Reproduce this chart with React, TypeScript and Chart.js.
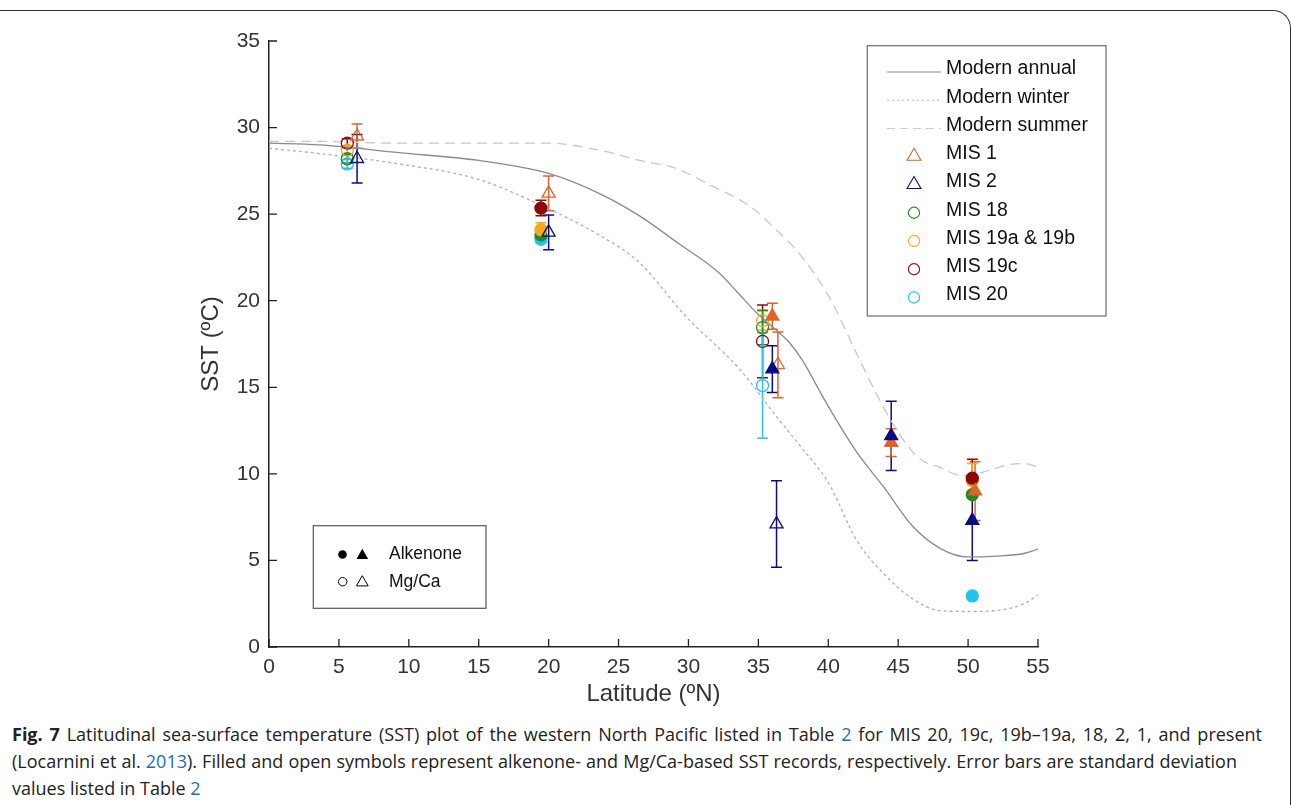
import React, { useEffect, useRef } from "react";
import { Chart, registerables } from "chart.js";

Chart.register(...registerables);

// ---------- Data ----------
const xTickValues = [0, 5, 10, 15, 20, 25, 30, 35, 40, 45, 50, 55];
const yTickValues = [0, 5, 10, 15, 20, 25, 30, 35];

// Modern climatology curves (latitude °N, SST °C)
const annualLat = [0, 3.6, 9.3, 15, 20, 23.6, 26.5, 29.3, 32.2, 33.6, 35, 36, 37.2, 38.2, 39.3, 40, 42, 44, 46, 48, 50, 52, 54, 55];
const annualSST = [29.1, 29.0, 28.55, 28.1, 27.35, 26.2, 24.9, 23.3, 21.6, 20.4, 19.2, 18.5, 17.6, 16.5, 14.9, 13.9, 11.3, 9.2, 7.0, 5.7, 5.2, 5.25, 5.4, 5.65];

const winterLat = [0, 3.6, 9.3, 15, 20, 23.6, 26.5, 29.8, 33.6, 36.5, 38, 40, 42, 44, 46, 48, 50, 52, 54, 55];
const winterSST = [28.8, 28.5, 27.9, 27.0, 25.3, 23.8, 22.2, 19.1, 16.1, 13.1, 11.6, 9.5, 6.2, 4.2, 2.8, 2.1, 2.05, 2.1, 2.5, 3.0];

const summerLat = [0, 3.6, 9.3, 15, 20, 23.6, 26.5, 29.1, 31.5, 34.5, 36, 37.9, 40, 42, 43.3, 45, 46.5, 47.9, 49.6, 51.5, 52.7, 54, 55];
const summerSST = [29.2, 29.2, 29.1, 29.1, 29.1, 28.7, 28.1, 27.65, 26.7, 25.4, 24.3, 22.75, 20.3, 17.0, 14.85, 12.4, 10.9, 10.4, 9.9, 10.2, 10.5, 10.6, 10.4];

// Paleo records: latitude, SST, standard deviation, alkenone (filled) vs Mg/Ca (open)
const mis1Lat = [6.3, 20.0, 36.0, 36.4, 44.5, 50.5];
const mis1SST = [29.5, 26.2, 19.1, 16.3, 11.8, 9.0];
const mis1Err = [0.7, 1.0, 0.75, 1.9, 0.8, 1.7];
const mis1Filled = [false, false, true, false, true, true];

const mis2Lat = [6.3, 20.0, 36.0, 36.3, 44.5, 50.3];
const mis2SST = [28.2, 23.95, 16.05, 7.1, 12.2, 7.3];
const mis2Err = [1.4, 1.0, 1.35, 2.5, 2.0, 2.3];
const mis2Filled = [false, false, true, false, true, true];

const mis18Lat = [5.6, 19.45, 35.3, 50.3];
const mis18SST = [28.2, 23.8, 18.45, 8.8];
const mis18Err = [0.25, 0.2, 1.0, 0.15];
const mis18Filled = [false, true, false, true];

const mis19abLat = [5.6, 19.45, 35.3, 50.3];
const mis19abSST = [28.7, 24.1, 18.85, 9.6];
const mis19abErr = [0.25, 0.4, 0.55, 1.0];
const mis19abFilled = [false, true, false, true];

const mis19cLat = [5.6, 19.45, 35.3, 50.3];
const mis19cSST = [29.1, 25.35, 17.65, 9.75];
const mis19cErr = [0.25, 0.45, 2.1, 1.1];
const mis19cFilled = [false, true, false, true];

const mis20Lat = [5.6, 19.45, 35.3, 50.3];
const mis20SST = [27.9, 23.55, 15.1, 2.95];
const mis20Err = [0.25, 0.2, 3.05, 0];
const mis20Filled = [false, true, false, true];

// ---------- Styles ----------
const COL_MIS1 = "#E3622A";
const COL_MIS2 = "#0B0B82";
const COL_MIS18 = "#1E8C1E";
const COL_MIS19AB = "#F7A81B";
const COL_MIS19C = "#8A0A0A";
const COL_MIS20 = "#22C4EE";
const FONT = '"Liberation Sans", Arial, sans-serif';

const zip = (xs: number[], ys: number[]) => xs.map((x, i) => ({ x, y: ys[i] }));

function markerSet(label: string, lat: number[], sst: number[], err: number[], filled: boolean[], color: string, style: string) {
  return {
    type: "scatter" as const,
    label,
    data: zip(lat, sst),
    errs: err,
    pointStyle: style,
    pointRadius: style === "triangle" ? 7.5 : 6,
    borderWidth: 1.3,
    borderColor: color,
    backgroundColor: (ctx: any) => (filled[ctx.dataIndex] ? color : "rgba(0,0,0,0)"),
    showLine: false,
  };
}

function lineSet(label: string, lat: number[], sst: number[], color: string, dash: number[], width: number) {
  return {
    type: "line" as const,
    label,
    data: zip(lat, sst),
    borderColor: color,
    borderWidth: width,
    borderDash: dash,
    pointRadius: 0,
    fill: false,
    cubicInterpolationMode: "monotone" as const,
  };
}

function tri(ctx: CanvasRenderingContext2D, x: number, y: number, r: number) {
  ctx.beginPath();
  for (let k = 0; k < 3; k++) {
    const a = -Math.PI / 2 + (k * 2 * Math.PI) / 3;
    const px = x + Math.cos(a) * r;
    const py = y + Math.sin(a) * r;
    if (k === 0) ctx.moveTo(px, py);
    else ctx.lineTo(px, py);
  }
  ctx.closePath();
}

const errorBarPlugin = {
  id: "errorBars",
  beforeDatasetsDraw(chart: any) {
    const { ctx } = chart;
    const ys = chart.scales.y;
    chart.data.datasets.forEach((ds: any, i: number) => {
      if (!ds.errs) return;
      const meta = chart.getDatasetMeta(i);
      ctx.save();
      ctx.strokeStyle = ds.borderColor;
      ctx.lineWidth = 1.5;
      meta.data.forEach((pt: any, j: number) => {
        const e = ds.errs[j];
        if (!e) return;
        const v = ds.data[j].y;
        const yT = ys.getPixelForValue(v + e);
        const yB = ys.getPixelForValue(v - e);
        ctx.beginPath();
        ctx.moveTo(pt.x, yT);
        ctx.lineTo(pt.x, yB);
        ctx.moveTo(pt.x - 5.5, yT);
        ctx.lineTo(pt.x + 5.5, yT);
        ctx.moveTo(pt.x - 5.5, yB);
        ctx.lineTo(pt.x + 5.5, yB);
        ctx.stroke();
      });
      ctx.restore();
    });
  },
};

const decorPlugin = {
  id: "decor",
  afterDraw(chart: any) {
    const { ctx, chartArea } = chart;
    const xs = chart.scales.x;
    const ys = chart.scales.y;
    ctx.save();
    // inward ticks
    ctx.strokeStyle = "#222";
    ctx.lineWidth = 1.3;
    ctx.beginPath();
    xTickValues.forEach((v) => {
      const px = xs.getPixelForValue(v);
      ctx.moveTo(px, chartArea.bottom);
      ctx.lineTo(px, chartArea.bottom - 8);
    });
    yTickValues.forEach((v) => {
      const py = ys.getPixelForValue(v);
      ctx.moveTo(chartArea.left, py);
      ctx.lineTo(chartArea.left + 8, py);
    });
    ctx.stroke();

    // axis titles
    ctx.fillStyle = "#333";
    ctx.font = `24px ${FONT}`;
    ctx.textAlign = "center";
    ctx.textBaseline = "middle";
    ctx.fillText("Latitude (ºN)", (chartArea.left + chartArea.right) / 2, 694);
    ctx.save();
    ctx.translate(211, (chartArea.top + chartArea.bottom) / 2);
    ctx.rotate(-Math.PI / 2);
    ctx.fillText("SST (ºC)", 0, 0);
    ctx.restore();

    // main legend
    ctx.strokeStyle = "#777";
    ctx.lineWidth = 1.3;
    ctx.strokeRect(867.3, 45.7, 238.7, 270.3);
    const textX = 946;
    const rowY = (k: number) => 69 + k * 28.25;
    const lines = [
      { label: "Modern annual", color: "#888", dash: [] as number[] },
      { label: "Modern winter", color: "#bbb", dash: [2, 3] },
      { label: "Modern summer", color: "#ccc", dash: [8, 5] },
    ];
    ctx.lineWidth = 1.2;
    lines.forEach((l, k) => {
      ctx.strokeStyle = l.color;
      ctx.setLineDash(l.dash);
      ctx.beginPath();
      ctx.moveTo(887, rowY(k) + 3);
      ctx.lineTo(941, rowY(k) + 3);
      ctx.stroke();
    });
    ctx.setLineDash([]);
    const marks = [
      { label: "MIS 1", color: COL_MIS1, shape: "tri" },
      { label: "MIS 2", color: COL_MIS2, shape: "tri" },
      { label: "MIS 18", color: COL_MIS18, shape: "circ" },
      { label: "MIS 19a & 19b", color: COL_MIS19AB, shape: "circ" },
      { label: "MIS 19c", color: COL_MIS19C, shape: "circ" },
      { label: "MIS 20", color: COL_MIS20, shape: "circ" },
    ];
    ctx.lineWidth = 1.1;
    marks.forEach((m, k) => {
      const y = rowY(k + 3) + 1.5;
      ctx.strokeStyle = m.color;
      if (m.shape === "tri") {
        tri(ctx, 914, y + 1, 8);
      } else {
        ctx.beginPath();
        ctx.arc(914, y + 1, 5.6, 0, Math.PI * 2);
      }
      ctx.stroke();
    });
    ctx.fillStyle = "#111";
    ctx.font = `19.5px ${FONT}`;
    ctx.textAlign = "left";
    ctx.textBaseline = "middle";
    [...lines.map((l) => l.label), ...marks.map((m) => m.label)].forEach((t, k) => {
      ctx.fillText(t, textX, rowY(k));
    });

    // inset legend (proxy type)
    ctx.strokeStyle = "#555";
    ctx.lineWidth = 1.2;
    ctx.strokeRect(313.3, 525.7, 172.7, 82.6);
    ctx.fillStyle = "#000";
    ctx.strokeStyle = "#000";
    ctx.beginPath();
    ctx.arc(342.5, 554.5, 4.3, 0, Math.PI * 2);
    ctx.fill();
    tri(ctx, 362.3, 555.5, 6.8);
    ctx.fill();
    ctx.lineWidth = 1;
    ctx.beginPath();
    ctx.arc(342.7, 581.7, 4.2, 0, Math.PI * 2);
    ctx.stroke();
    tri(ctx, 362.3, 582.5, 6.8);
    ctx.stroke();
    ctx.fillStyle = "#111";
    ctx.font = `17.5px ${FONT}`;
    ctx.fillText("Alkenone", 389, 554.3);
    ctx.fillText("Mg/Ca", 389, 581.7);
    ctx.restore();
  },
};

export default function App() {
  const ref = useRef<HTMLCanvasElement | null>(null);

  useEffect(() => {
    if (!ref.current) return;
    const chart = new Chart(ref.current, {
      type: "scatter",
      data: {
        datasets: [
          markerSet("MIS 2", mis2Lat, mis2SST, mis2Err, mis2Filled, COL_MIS2, "triangle"),
          markerSet("MIS 1", mis1Lat, mis1SST, mis1Err, mis1Filled, COL_MIS1, "triangle"),
          markerSet("MIS 19c", mis19cLat, mis19cSST, mis19cErr, mis19cFilled, COL_MIS19C, "circle"),
          markerSet("MIS 19a & 19b", mis19abLat, mis19abSST, mis19abErr, mis19abFilled, COL_MIS19AB, "circle"),
          markerSet("MIS 18", mis18Lat, mis18SST, mis18Err, mis18Filled, COL_MIS18, "circle"),
          markerSet("MIS 20", mis20Lat, mis20SST, mis20Err, mis20Filled, COL_MIS20, "circle"),
          lineSet("Modern annual", annualLat, annualSST, "#8a8a8a", [], 1.3),
          lineSet("Modern winter", winterLat, winterSST, "#b0b0b0", [3, 3], 1.3),
          lineSet("Modern summer", summerLat, summerSST, "#c8c8c8", [10, 6], 1.3),
        ] as any,
      },
      options: {
        responsive: false,
        animation: false,
        devicePixelRatio: 1,
        layout: { padding: { left: 0, top: 41, right: 255, bottom: 0 } },
        plugins: { legend: { display: false }, tooltip: { enabled: false } },
        scales: {
          x: {
            type: "linear",
            min: 0,
            max: 55,
            afterFit: (s: any) => {
              s.height = 720 - 647;
            },
            afterBuildTicks: (s: any) => {
              s.ticks = xTickValues.map((v) => ({ value: v }));
            },
            grid: { display: false, drawTicks: false },
            border: { display: true, color: "#222", width: 1.5 },
            ticks: { color: "#333", font: { family: FONT, size: 21 }, padding: 8 },
          },
          y: {
            type: "linear",
            min: 0,
            max: 35,
            afterFit: (s: any) => {
              s.width = 269;
            },
            afterBuildTicks: (s: any) => {
              s.ticks = yTickValues.map((v) => ({ value: v }));
            },
            grid: { display: false, drawTicks: false },
            border: { display: true, color: "#222", width: 1.5 },
            ticks: { color: "#333", font: { family: FONT, size: 21 }, padding: 9 },
          },
        },
      },
      plugins: [errorBarPlugin, decorPlugin],
    });
    return () => chart.destroy();
  }, []);

  const blue = { color: "#1a6fb5" };
  const lineStyle = (w: number, justify: boolean): React.CSSProperties => ({
    width: w,
    whiteSpace: "nowrap",
    textAlign: justify ? "justify" : "left",
    textAlignLast: justify ? "justify" : "left",
    height: 27,
  } as any);
  return (
    <div style={{ position: "fixed", left: 0, top: 0, width: 1293, height: 805, background: "#fff", overflow: "hidden" }}>
      <div
        style={{
          position: "absolute",
          left: -4,
          top: 10,
          width: 1295,
          height: 900,
          borderTop: "1.5px solid #333",
          borderRight: "1.5px solid #333",
          borderTopRightRadius: 18,
          boxSizing: "border-box",
        }}
      />
      <canvas ref={ref} width={1293} height={720} style={{ position: "absolute", left: 0, top: 0, width: 1293, height: 720 }} />
      <div
        style={{
          position: "absolute",
          left: 12,
          top: 721,
          fontFamily: '"Open Sans", "Noto Sans", sans-serif',
          fontSize: 18,
          lineHeight: "27px",
          color: "#222",
        }}
      >
        <div style={lineStyle(1250, true)}>
          <b>Fig. 7</b> Latitudinal sea-surface temperature (SST) plot of the western North Pacific listed in Table <span style={blue}>2</span> for MIS 20, 19c, 19b–19a, 18, 2, 1, and present
        </div>
        <div style={lineStyle(1225, true)}>
          (Locarnini et al. <span style={blue}>2013</span>). Filled and open symbols represent alkenone- and Mg/Ca-based SST records, respectively. Error bars are standard deviation
        </div>
        <div style={lineStyle(400, false)}>
          values listed in Table <span style={blue}>2</span>
        </div>
      </div>
    </div>
  );
}
